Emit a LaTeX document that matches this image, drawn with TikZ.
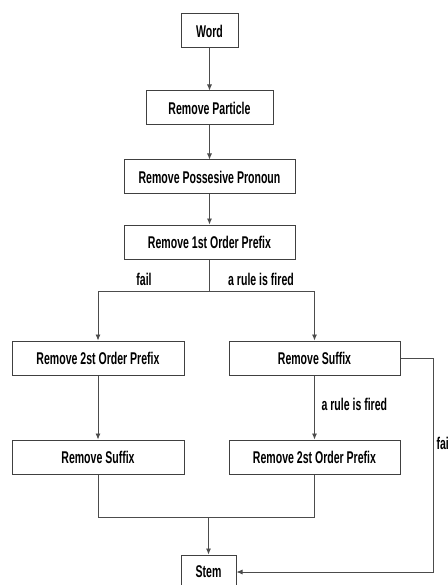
\documentclass[tikz,border=0pt]{standalone}
\usepackage{fontspec}
\setmainfont[FakeStretch=0.62]{Liberation Sans}
\usetikzlibrary{arrows.meta,positioning}

\begin{document}
\begin{tikzpicture}[
      x=1pt,y=-1pt,
      stepbox/.style={
         draw=black!75,
         line width=1pt,
         fill=white,
         inner sep=0pt,
         minimum height=34pt,
         font=\bfseries\fontsize{17}{20}\selectfont},
      lbl/.style={font=\bfseries\fontsize{17}{20}\selectfont},
      myline/.style={draw=black!70, line width=0.8pt},
      myarrow/.style={myline,-{Latex[length=6pt,width=5pt]}}
      ]
      \useasboundingbox (0,0) rectangle (447,585);
      \node[stepbox,minimum width=57pt] (word) at (209.5,31) {Word};
      \node[stepbox,minimum width=127pt,below=42pt of word] (particle) {Remove Particle};
      \node[stepbox,minimum width=171pt,below=34pt of particle] (pronoun) {Remove Possesive Pronoun};
      \node[stepbox,minimum width=171pt,below=30pt of pronoun] (prefixA) {Remove 1st Order Prefix};
      \node[stepbox,minimum width=172pt,below=81pt of prefixA,xshift=-111.5pt] (prefixB) {Remove 2st Order Prefix};
      \node[stepbox,minimum width=171pt,below=81pt of prefixA,xshift=105pt] (suffixA) {Remove Suffix};
      \node[stepbox,minimum width=172pt,below=64pt of prefixB] (suffixB) {Remove Suffix};
      \node[stepbox,minimum width=171pt,below=64pt of suffixA] (prefixC) {Remove 2st Order Prefix};
      \node[stepbox,minimum width=55pt] (stem) at (208.5,572) {Stem};

      \coordinate (split) at ([yshift=-32pt]prefixA.south);
      \coordinate (merge) at ([yshift=37pt]stem.north);
      \coordinate (bend) at ([xshift=33pt]suffixA.east);

      \draw[myarrow] (word) -- (particle);
      \draw[myarrow] (particle) -- (pronoun);
      \draw[myarrow] (pronoun) -- (prefixA);
      \draw[myline] (prefixA) -- (split);
      \draw[myarrow] (split) -| (prefixB);
      \draw[myarrow] (split) -| (suffixA);
      \draw[myarrow] (prefixB) -- (suffixB);
      \draw[myarrow] (suffixA) -- (prefixC);
      \draw[myline] (suffixB) |- (merge) -| (prefixC);
      \draw[myarrow] (merge) -- (stem);
      \draw[myarrow] (suffixA) -- (bend) |- (stem);

      \node[lbl] (failA) at (144,279) {fail};
      \node[lbl] (firedA) at (261,279) {a rule is fired};
      \node[lbl,anchor=west] (firedB) at (318,404) {a rule is fired};
      \node[lbl,anchor=west] (failB) at (433,443) {fail};
    \end{tikzpicture}
\end{document}
